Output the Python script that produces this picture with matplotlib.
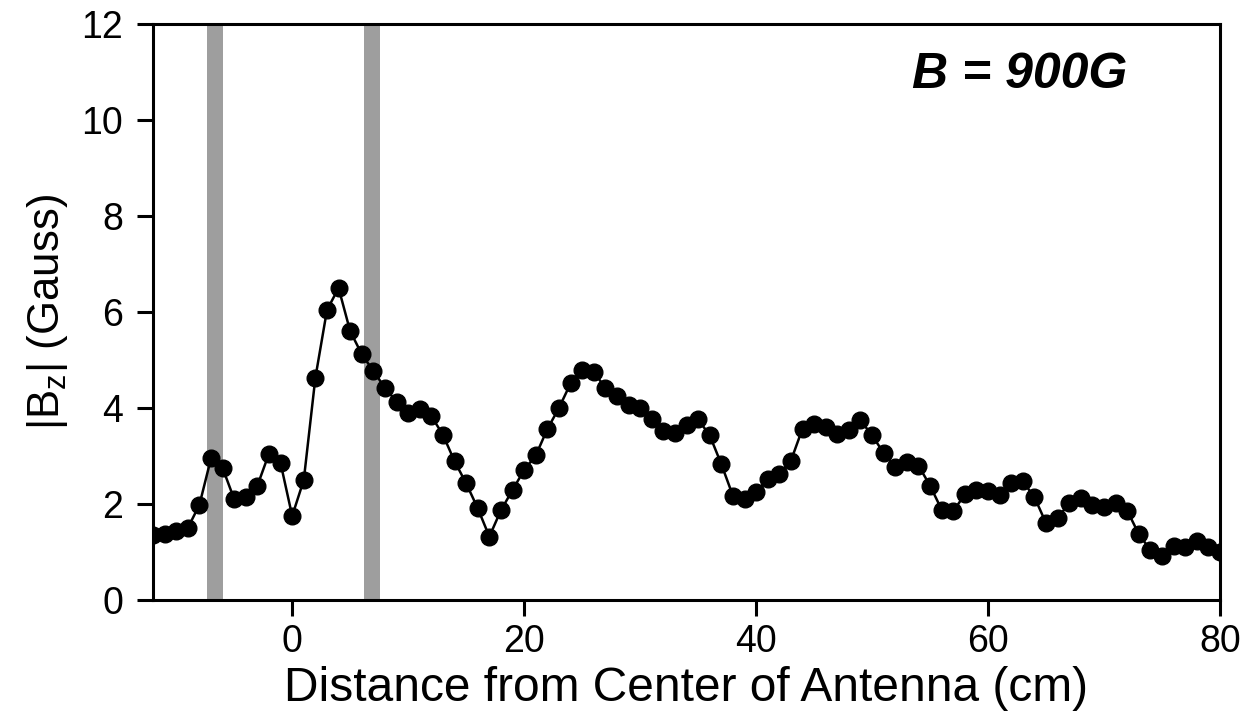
import matplotlib
matplotlib.use("Agg")
import matplotlib.pyplot as plt
import numpy as np

plt.rcParams['font.family'] = ['Liberation Sans', 'DejaVu Sans']
plt.rcParams['mathtext.fontset'] = 'custom'
plt.rcParams['mathtext.rm'] = 'Liberation Sans'
plt.rcParams['mathtext.it'] = 'Liberation Sans:italic'

distance_cm = list(range(-12, 81))
bz_gauss = [
    1.35, 1.38, 1.44, 1.50, 1.98, 2.95, 2.75, 2.10, 2.15, 2.38,   # -12..-3
    3.05, 2.85, 1.75, 2.50, 4.63, 6.04, 6.50, 5.60, 5.12, 4.77,   # -2..7
    4.42, 4.13, 3.90, 3.97, 3.83, 3.44, 2.89, 2.43, 1.91, 1.32,   # 8..17
    1.87, 2.29, 2.71, 3.01, 3.56, 4.00, 4.51, 4.80, 4.75, 4.42,   # 18..27
    4.24, 4.07, 4.00, 3.78, 3.53, 3.48, 3.65, 3.76, 3.43, 2.83,   # 28..37
    2.17, 2.10, 2.24, 2.53, 2.63, 2.90, 3.57, 3.67, 3.60, 3.46,   # 38..47
    3.55, 3.74, 3.43, 3.06, 2.76, 2.87, 2.80, 2.38, 1.88, 1.85,   # 48..57
    2.20, 2.30, 2.26, 2.18, 2.43, 2.47, 2.14, 1.60, 1.70, 2.03,   # 58..67
    2.12, 1.97, 1.93, 2.03, 1.86, 1.37, 1.04, 0.92, 1.13, 1.10,   # 68..77
    1.22, 1.10, 1.00,                                             # 78..80
]
antenna_bands = [(-7.35, -5.95), (6.15, 7.6)]
x_ticks = [0, 20, 40, 60, 80]
y_ticks = [0, 2, 4, 6, 8, 10, 12]

fig = plt.figure(figsize=(12.48, 7.24), dpi=100)
ax = fig.add_axes([0.1226, 0.1713, 0.8550, 0.7956])

for lo, hi in antenna_bands:
    ax.axvspan(lo, hi, facecolor='#9e9e9e', edgecolor='none', zorder=1)

ax.plot(distance_cm, bz_gauss, color='black', lw=1.8, marker='o',
        markersize=12, markerfacecolor='black', markeredgecolor='black', zorder=3)

ax.set_xlim(-12, 80)
ax.set_ylim(0, 12)
ax.set_xticks(x_ticks)
ax.set_yticks(y_ticks)
ax.tick_params(axis='both', direction='out', length=11.5, width=2.2, labelsize=27,
               colors='black')
ax.tick_params(axis='x', pad=6)
ax.tick_params(axis='y', pad=10)
for s in ax.spines.values():
    s.set_linewidth(2.2)

ax.set_xlabel('Distance from Center of Antenna (cm)', fontsize=34.5, labelpad=4)
ax.set_ylabel(r'|B$_\mathrm{z}$| (Gauss)', fontsize=31.5, labelpad=8)

ax.text(0.711, 0.911, 'B = 900G', transform=ax.transAxes, ha='left', va='center',
        fontsize=36, fontweight='bold', fontstyle='italic')

fig.savefig('out.png', dpi=100)
